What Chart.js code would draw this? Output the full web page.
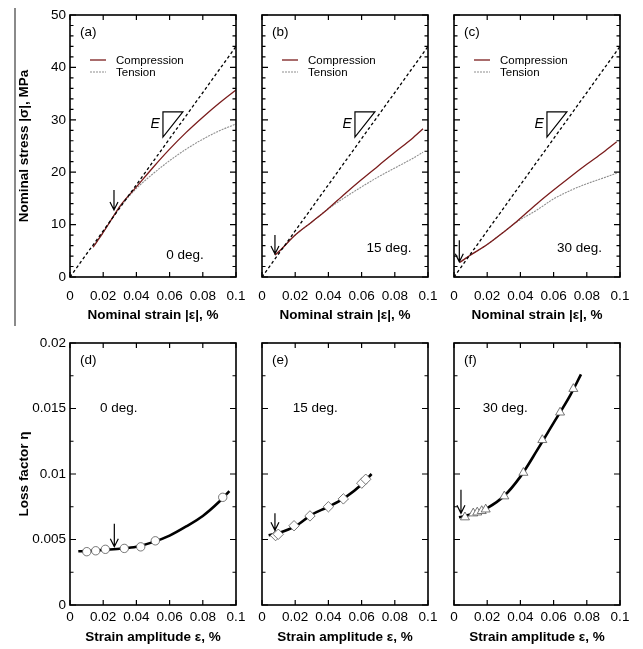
<!DOCTYPE html>
<html>
<head>
<meta charset="utf-8">
<script src="https://cdn.jsdelivr.net/npm/chart.js@4.4.0/dist/chart.umd.min.js"></script>
<style>
  body { margin: 0; background: #fff; overflow: hidden; }
  #wrap { position: relative; width: 643px; height: 649px; overflow: hidden; }
  #wrap canvas { position: absolute; }
  #bar { position: absolute; left: 14px; top: 8px; width: 2px; height: 318px; background: #8a8a8a; }
</style>
</head>
<body>
<div id="wrap">
  <div id="bar"></div>
  <canvas id="pa" width="258" height="330" style="left:0;top:0"></canvas>
  <canvas id="pb" width="210" height="330" style="left:240px;top:0"></canvas>
  <canvas id="pc" width="210" height="330" style="left:432px;top:0"></canvas>
  <canvas id="pd" width="258" height="319" style="left:0;top:330px"></canvas>
  <canvas id="pe" width="210" height="319" style="left:240px;top:330px"></canvas>
  <canvas id="pf" width="210" height="319" style="left:432px;top:330px"></canvas>
</div>
<script>
// ---- axis ticks ----
const strainTicks = [0, 0.02, 0.04, 0.06, 0.08, 0.1];
const strainTickLabels = ["0", "0.02", "0.04", "0.06", "0.08", "0.1"];
const stressTicks = [0, 10, 20, 30, 40, 50];
const stressTickLabels = ["0", "10", "20", "30", "40", "50"];
const lossTicks = [0, 0.005, 0.01, 0.015, 0.02];
const lossTickLabels = ["0", "0.005", "0.01", "0.015", "0.02"];

// ---- initial modulus line (E) ----
const elasticStrain = [0, 0.1];
const elasticStress = [0, 44];
const eTriX = [0.056, 0.068];
const eTriY = [31.5, 26.7];

// ---- (a) 0 deg. stress-strain ----
const compStrainA = [0.0139, 0.02, 0.025, 0.03, 0.04, 0.05, 0.06, 0.07, 0.08, 0.09, 0.1];
const compStressA = [5.7, 8.5, 11.0, 13.5, 17.2, 20.9, 24.4, 27.6, 30.5, 33.2, 35.7];
const tensStrainA = [0.0139, 0.02, 0.025, 0.03, 0.035, 0.04, 0.05, 0.06, 0.07, 0.08, 0.09, 0.1];
const tensStressA = [5.7, 8.5, 11.0, 13.3, 15.2, 16.9, 19.7, 22.2, 24.4, 26.3, 27.9, 29.2];

// ---- (b) 15 deg. ----
const compStrainB = [0.0078, 0.01, 0.02, 0.03, 0.039, 0.05, 0.06, 0.07, 0.08, 0.09, 0.097];
const compStressB = [4.2, 4.8, 8.0, 10.5, 12.8, 15.9, 18.6, 21.2, 23.8, 26.3, 28.3];
const tensStrainB = [0.0078, 0.01, 0.02, 0.03, 0.039, 0.05, 0.06, 0.07, 0.08, 0.09, 0.097];
const tensStressB = [4.2, 4.8, 8.0, 10.5, 12.8, 15.2, 17.2, 19.1, 20.8, 22.5, 23.8];

// ---- (c) 30 deg. ----
const compStrainC = [0.0035, 0.01, 0.02, 0.03, 0.0378, 0.05, 0.06, 0.07, 0.08, 0.09, 0.098];
const compStressC = [2.8, 4.2, 6.2, 8.6, 10.6, 14.0, 16.6, 19.1, 21.5, 23.8, 25.8];
const tensStrainC = [0.0035, 0.01, 0.02, 0.03, 0.0378, 0.05, 0.06, 0.07, 0.08, 0.09, 0.098];
const tensStressC = [2.8, 4.2, 6.2, 8.6, 10.5, 12.8, 14.9, 16.5, 17.8, 18.9, 19.8];

// ---- (d) 0 deg. loss factor ----
const ampD = [0.0101, 0.0155, 0.0213, 0.0327, 0.0426, 0.0514, 0.092];
const lossD = [0.00407, 0.00414, 0.00425, 0.00432, 0.00444, 0.0049, 0.00822];
const fitAmpD = [0.005, 0.01, 0.02, 0.03, 0.04, 0.05, 0.06, 0.07, 0.08, 0.09, 0.096];
const fitLossD = [0.0041, 0.00412, 0.0042, 0.0043, 0.00445, 0.0048, 0.0053, 0.006, 0.0068, 0.0079, 0.0087];

// ---- (e) 15 deg. ----
const ampE = [0.0082, 0.0098, 0.0193, 0.0289, 0.04, 0.049, 0.0601, 0.0625];
const lossE = [0.0053, 0.0054, 0.00605, 0.0068, 0.0075, 0.0081, 0.0093, 0.0096];
const fitAmpE = [0.004, 0.01, 0.02, 0.03, 0.04, 0.05, 0.06, 0.066];
const fitLossE = [0.00532, 0.0055, 0.006, 0.0069, 0.0075, 0.0082, 0.0092, 0.01];

// ---- (f) 30 deg. ----
const ampF = [0.0066, 0.0116, 0.014, 0.0167, 0.0191, 0.0303, 0.0418, 0.0532, 0.0639, 0.0719];
const lossF = [0.0067, 0.007, 0.00707, 0.00718, 0.0073, 0.0083, 0.0101, 0.0126, 0.0147, 0.0165];
const fitAmpF = [0.003, 0.01, 0.02, 0.03, 0.04, 0.05, 0.06, 0.07, 0.0765];
const fitLossF = [0.0067, 0.0069, 0.0074, 0.0083, 0.0098, 0.0118, 0.0139, 0.016, 0.0176];

// arrows: [x, arrow top, arrow tip]
const arrowA = [0.0265, 16.6, 12.8];
const arrowB = [0.0078, 8.0, 4.4];
const arrowC = [0.0032, 7.0, 2.9];
const arrowD = [0.0267, 0.0062, 0.00445];
const arrowE = [0.0078, 0.007, 0.0057];
const arrowF = [0.0042, 0.0088, 0.007];

const FONT = "'Liberation Sans', Arial, Helvetica, sans-serif";
const pts = (xs, ys) => xs.map((v, i) => ({ x: v, y: ys[i] }));

const decor = {
  id: "decor",
  afterDatasetsDraw(chart, args, o) {
    const { ctx, chartArea: a, scales: { x, y } } = chart;
    ctx.save();
    ctx.strokeStyle = "#000";
    ctx.fillStyle = "#000";

    // arrow
    const [ax, ay0, ay1] = o.arrow;
    const px = x.getPixelForValue(ax);
    const p0 = y.getPixelForValue(ay0);
    const p1 = y.getPixelForValue(ay1);
    ctx.lineWidth = 1.2;
    ctx.beginPath();
    ctx.moveTo(px, p0);
    ctx.lineTo(px, p1);
    ctx.moveTo(px - 4, p1 - 8);
    ctx.lineTo(px, p1);
    ctx.lineTo(px + 4, p1 - 8);
    ctx.stroke();

    // frame
    ctx.lineWidth = 1.6;
    ctx.strokeRect(a.left, a.top, a.width, a.height);

    // inward ticks
    ctx.lineWidth = 1.2;
    ctx.beginPath();
    o.xTicks.forEach((v) => {
      const tx = x.getPixelForValue(v);
      ctx.moveTo(tx, a.bottom);
      ctx.lineTo(tx, a.bottom - 5);
      ctx.moveTo(tx, a.top);
      ctx.lineTo(tx, a.top + 5);
    });
    const n = Math.round((y.max - y.min) / o.yMinor);
    for (let i = 0; i <= n; i++) {
      const v = y.min + i * o.yMinor;
      const major = o.yTicks.some((t) => Math.abs(t - v) < o.yMinor / 10);
      const len = major ? 6 : 3.5;
      const ty = y.getPixelForValue(v);
      ctx.moveTo(a.left, ty);
      ctx.lineTo(a.left + len, ty);
      ctx.moveTo(a.right, ty);
      ctx.lineTo(a.right - len, ty);
    }
    ctx.stroke();

    // panel tag and angle
    ctx.font = "13.5px " + FONT;
    ctx.textBaseline = "middle";
    ctx.textAlign = "left";
    ctx.fillText(o.tag, a.left + 10, a.top + 17);
    ctx.fillText(o.deg[0], x.getPixelForValue(o.deg[1]), y.getPixelForValue(o.deg[2]));

    // legend
    if (o.legend) {
      ctx.font = "11.5px " + FONT;
      chart.data.datasets.filter((d) => d.inLegend).forEach((d, i) => {
        const ly = a.top + 45 + i * 12;
        ctx.save();
        ctx.strokeStyle = d.borderColor;
        ctx.lineWidth = d.borderWidth;
        ctx.setLineDash(d.borderDash || []);
        ctx.beginPath();
        ctx.moveTo(a.left + 20, ly);
        ctx.lineTo(a.left + 36, ly);
        ctx.stroke();
        ctx.restore();
        ctx.fillText(d.label, a.left + 46, ly + 1);
      });
    }

    // E triangle
    if (o.eTri) {
      const tx0 = x.getPixelForValue(eTriX[0]);
      const tx1 = x.getPixelForValue(eTriX[1]);
      const ty0 = y.getPixelForValue(eTriY[0]);
      const ty1 = y.getPixelForValue(eTriY[1]);
      ctx.lineWidth = 1.2;
      ctx.beginPath();
      ctx.moveTo(tx0, ty1);
      ctx.lineTo(tx0, ty0);
      ctx.lineTo(tx1, ty0);
      ctx.closePath();
      ctx.stroke();
      ctx.font = "italic 14px " + FONT;
      ctx.textAlign = "right";
      ctx.fillText("E", tx0 - 3, (ty0 + ty1) / 2);
    }
    ctx.restore();
  },
};

function makeChart(id, cfg) {
  const top = cfg.row === 0;
  const xScale = {
    type: "linear",
    min: 0,
    max: 0.1,
    grid: { display: false, drawTicks: false },
    border: { display: false },
    afterBuildTicks: (s) => { s.ticks = strainTicks.map((v) => ({ value: v })); },
    afterFit: (s) => { s.height = top ? 53 : 44; },
    ticks: {
      padding: top ? 11 : 4,
      color: "#000",
      font: { family: FONT, size: 13.5 },
      callback: (v, i) => strainTickLabels[i],
    },
    title: {
      display: true,
      text: top ? "Nominal strain |ε|, %" : "Strain amplitude ε, %",
      color: "#000",
      font: { family: FONT, size: 13.5, weight: "bold" },
      padding: { top: 0, bottom: top ? 7 : 4 },
    },
  };
  const yVals = top ? stressTicks : lossTicks;
  const yLabels = top ? stressTickLabels : lossTickLabels;
  const yScale = {
    type: "linear",
    min: 0,
    max: top ? 50 : 0.02,
    grid: { display: false, drawTicks: false },
    border: { display: false },
    afterBuildTicks: (s) => { s.ticks = yVals.map((v) => ({ value: v })); },
    afterFit: (s) => { s.width = cfg.first ? 70 : 0; },
    ticks: {
      display: cfg.first,
      padding: 4,
      color: "#000",
      font: { family: FONT, size: 13.5 },
      callback: (v, i) => yLabels[i],
    },
    title: {
      display: cfg.first,
      text: top ? "Nominal stress |σ|, MPa" : "Loss factor η",
      color: "#000",
      font: { family: FONT, size: 13.5, weight: "bold" },
      padding: { top: 16, bottom: 0 },
    },
  };
  return new Chart(document.getElementById(id), {
    type: "scatter",
    data: { datasets: cfg.datasets },
    options: {
      responsive: false,
      animation: false,
      events: [],
      layout: { padding: { top: top ? 15 : 13, bottom: 0, left: cfg.first ? 0 : 22, right: 22 } },
      scales: { x: xScale, y: yScale },
      plugins: {
        legend: { display: false },
        tooltip: { enabled: false },
        decor: {
          arrow: cfg.arrow,
          tag: cfg.tag,
          deg: cfg.deg,
          legend: top,
          eTri: top,
          xTicks: strainTicks,
          yTicks: yVals,
          yMinor: top ? 2 : 0.0025,
        },
      },
    },
    plugins: [decor],
  });
}

function stressSets(cs, cy, ts, ty) {
  return [
    { label: "Elastic", data: pts(elasticStrain, elasticStress), showLine: true, pointRadius: 0,
      borderColor: "#000", borderWidth: 1.3, borderDash: [3, 2.5] },
    { label: "Compression", inLegend: true, data: pts(cs, cy), showLine: true, pointRadius: 0,
      borderColor: "#7a1c1c", borderWidth: 1.3, cubicInterpolationMode: "monotone" },
    { label: "Tension", inLegend: true, data: pts(ts, ty), showLine: true, pointRadius: 0,
      borderColor: "#8e8e8e", borderWidth: 1.1, borderDash: [2, 1], cubicInterpolationMode: "monotone" },
  ];
}

function lossSets(mx, my, fx, fy, style, radius) {
  return [
    { label: "Measured", data: pts(mx, my), showLine: false, pointStyle: style, pointRadius: radius,
      pointBackgroundColor: "#fff", pointBorderColor: "#555", pointBorderWidth: 0.8 },
    { label: "Fit", data: pts(fx, fy), showLine: true, pointRadius: 0,
      borderColor: "#000", borderWidth: 2.6, cubicInterpolationMode: "monotone" },
  ];
}

makeChart("pa", { row: 0, first: true, tag: "(a)", deg: ["0 deg.", 0.058, 4.2], arrow: arrowA,
  datasets: stressSets(compStrainA, compStressA, tensStrainA, tensStressA) });
makeChart("pb", { row: 0, first: false, tag: "(b)", deg: ["15 deg.", 0.063, 5.4], arrow: arrowB,
  datasets: stressSets(compStrainB, compStressB, tensStrainB, tensStressB) });
makeChart("pc", { row: 0, first: false, tag: "(c)", deg: ["30 deg.", 0.062, 5.4], arrow: arrowC,
  datasets: stressSets(compStrainC, compStressC, tensStrainC, tensStressC) });
makeChart("pd", { row: 1, first: true, tag: "(d)", deg: ["0 deg.", 0.018, 0.015], arrow: arrowD,
  datasets: lossSets(ampD, lossD, fitAmpD, fitLossD, "circle", 4.2) });
makeChart("pe", { row: 1, first: false, tag: "(e)", deg: ["15 deg.", 0.0185, 0.015], arrow: arrowE,
  datasets: lossSets(ampE, lossE, fitAmpE, fitLossE, "rectRot", 5.2) });
makeChart("pf", { row: 1, first: false, tag: "(f)", deg: ["30 deg.", 0.0173, 0.015], arrow: arrowF,
  datasets: lossSets(ampF, lossF, fitAmpF, fitLossF, "triangle", 5.2) });
</script>
</body>
</html>
